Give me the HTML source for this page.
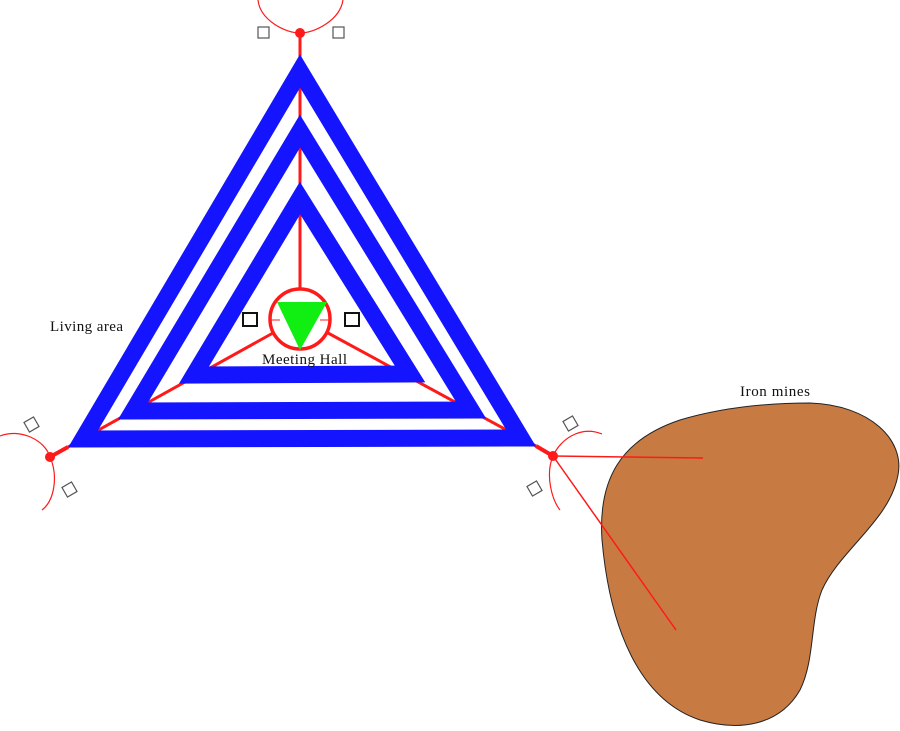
<!DOCTYPE html>
<html><head><meta charset="utf-8"><style>html,body{margin:0;padding:0;background:#fff;}svg{display:block}</style></head>
<body>
<svg width="900" height="731" viewBox="0 0 900 731" xmlns="http://www.w3.org/2000/svg">
<path d="M 810 403 C 870 405, 905 440, 898 475 C 890 520, 840 550, 822 590 C 810 620, 815 660, 800 690 C 780 725, 740 732, 700 720 C 640 700, 610 630, 602 540 C 598 480, 620 440, 680 420 C 730 405, 780 403, 810 403 Z" fill="#c87a43" stroke="#222" stroke-width="1"/>
<g stroke="#ff1a1a" fill="none">
<line x1="300" y1="33" x2="300" y2="290" stroke-width="3"/>
<line x1="273" y1="333" x2="68" y2="447" stroke-width="3"/>
<line x1="328" y1="333" x2="536" y2="446" stroke-width="3"/>
<line x1="68" y1="447" x2="50" y2="457" stroke-width="4"/>
<line x1="536" y1="446" x2="553" y2="456" stroke-width="4"/>
<line x1="553" y1="456" x2="703" y2="458" stroke-width="1.5"/>
<line x1="553" y1="456" x2="676" y2="630" stroke-width="1.5"/>
<path d="M 258 0 C 260 20, 285 33, 300 33 C 315 33, 340 20, 343 0" stroke-width="1.2"/>
<path d="M 0 436 C 20 428, 45 440, 50 457 C 58 475, 55 500, 42 510" stroke-width="1.2"/>
<path d="M 602 434 C 580 425, 560 440, 553 456 C 545 475, 552 500, 560 510" stroke-width="1.2"/>
</g>
<g fill="none" stroke="#1414ff" stroke-width="17" stroke-linejoin="miter" stroke-miterlimit="10">
<polygon points="300,71 83,439 521,438"/>
<polygon points="300,131 133,411 471,410"/>
<polygon points="300,198 194,375 410,374"/>
</g>
<circle cx="300" cy="319" r="30" stroke="#ff1a1a" stroke-width="3.5" fill="#fff"/>
<circle cx="300" cy="33" r="5" fill="#ff1a1a"/>
<circle cx="50" cy="457" r="5" fill="#ff1a1a"/>
<circle cx="553" cy="456" r="5" fill="#ff1a1a"/>
<polygon points="277,302 327,302 300,350" fill="#11ee11"/>
<g stroke="#ff1a1a" stroke-width="1"><line x1="271" y1="320" x2="280" y2="320"/><line x1="320" y1="320" x2="329" y2="320"/></g>
<rect x="243" y="313" width="14" height="13" fill="none" stroke="#111" stroke-width="2"/>
<rect x="345" y="313" width="14" height="13" fill="none" stroke="#111" stroke-width="2"/>
<g fill="none" stroke="#555" stroke-width="1.2">
<rect x="258" y="27" width="11" height="11"/>
<rect x="333" y="27" width="11" height="11"/>
<rect x="26" y="419" width="11" height="11" transform="rotate(-30 31.5 424.5)"/>
<rect x="64" y="484" width="11" height="11" transform="rotate(-30 69.5 489.5)"/>
<rect x="565" y="418" width="11" height="11" transform="rotate(-30 570.5 423.5)"/>
<rect x="529" y="483" width="11" height="11" transform="rotate(-30 534.5 488.5)"/>
</g>
<g font-family="Liberation Serif, serif" font-size="15" fill="#111">
<text x="50" y="331" textLength="73">Living area</text>
<text x="262" y="364" textLength="85">Meeting Hall</text>
<text x="740" y="396" textLength="70">Iron mines</text>
</g>
</svg>
</body></html>
